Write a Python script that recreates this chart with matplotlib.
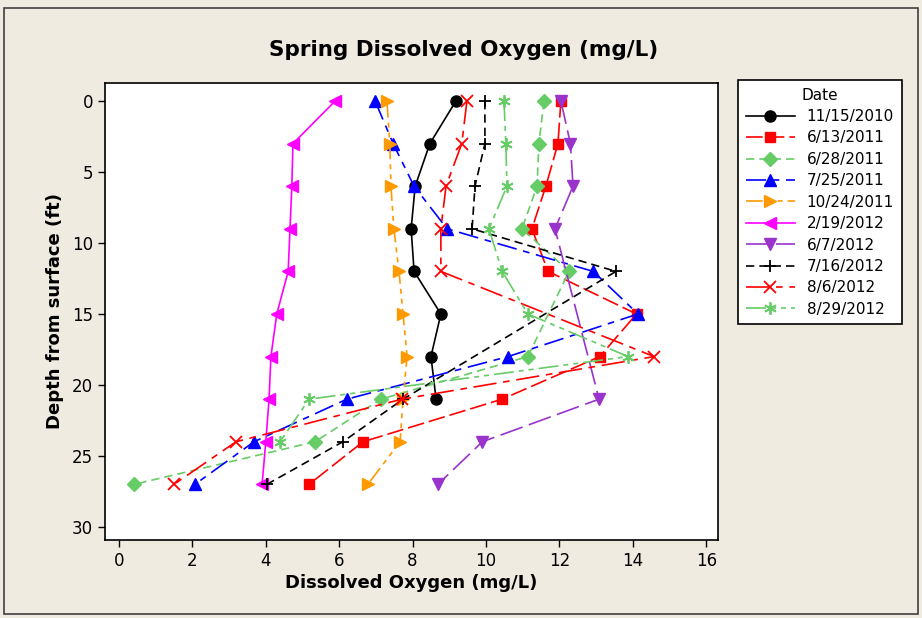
import numpy as np
import matplotlib
matplotlib.use("Agg")
from matplotlib import pyplot as plt
from matplotlib.patches import Rectangle

plt.rcParams['font.family'] = ['DejaVu Sans']

nan = np.nan
depth = [0, 3, 6, 9, 12, 15, 18, 21, 24, 27]

# ============================== Data (dissolved oxygen by depth) ==============================
do_20101115 = [9.18, 8.47, 8.07, 7.96, 8.04, 8.77, 8.50, 8.64, nan, nan]
do_20110613 = [12.04, 11.96, 11.63, 11.25, 11.69, 14.10, 13.10, 10.44, 6.65, 5.18]
do_20110628 = [11.58, 11.44, 11.39, 10.98, 12.26, nan, 11.14, 7.14, 5.34, 0.41]
do_20110725 = [6.98, 7.47, 8.04, 8.94, 12.92, 14.14, 10.60, 6.21, 3.68, 2.07]
do_20111024 = [7.30, 7.38, 7.41, 7.49, 7.63, 7.74, 7.85, 7.74, 7.66, 6.78]
do_20120219 = [5.89, 4.74, 4.71, 4.66, 4.61, 4.30, 4.14, 4.09, 4.00, 3.90]
do_20120607 = [12.04, 12.30, 12.37, 11.88, nan, nan, nan, 13.08, 9.90, 8.69]
do_20120716 = [9.97, 9.97, 9.70, 9.62, 13.54, nan, nan, 7.74, 6.10, 4.03]
do_20120806 = [9.48, 9.34, 8.91, 8.77, 8.77, nan, 14.58, 7.71, 3.19, 1.50]
do_20120829 = [10.49, 10.54, 10.57, 10.08, 10.44, 11.14, 13.87, 5.18, 4.39, nan]

dates = ["11/15/2010", "6/13/2011", "6/28/2011", "7/25/2011", "10/24/2011",
         "2/19/2012", "6/7/2012", "7/16/2012", "8/6/2012", "8/29/2012"]
values = [do_20101115, do_20110613, do_20110628, do_20110725, do_20111024,
          do_20120219, do_20120607, do_20120716, do_20120806, do_20120829]

# ============================== Styles (Minitab-like) ==============================
styles = [
    dict(color="black", marker="o", ls="-", ms=8),
    dict(color="#FF0000", marker="s", ls=(0, (10, 3)), ms=7.5),
    dict(color="#66CC66", marker="D", ls=(0, (5, 3)), ms=7),
    dict(color="#0000FF", marker="^", ls=(0, (12, 4, 4, 4)), ms=9),
    dict(color="#FF9900", marker=">", ls=(0, (10, 3, 3, 3, 3, 3)), ms=9),
    dict(color="#FF00FF", marker="<", ls="-", ms=9),
    dict(color="#9933CC", marker="v", ls=(0, (14, 4)), ms=9),
    dict(color="black", marker="+", ls=(0, (5, 3)), ms=9),
    dict(color="#FF0000", marker="x", ls=(0, (14, 4, 4, 4)), ms=8),
    dict(color="#66CC66", marker=(6, 2, 0), ls=(0, (12, 3, 3, 3, 3, 3)), ms=9),
]

fig = plt.figure(figsize=(9.22, 6.18), dpi=100)
fig.patch.set_facecolor("#EFEBE1")
fig.patches.append(Rectangle((4 / 922, 4 / 618), 914 / 922, 606 / 618,
                             transform=fig.transFigure, fill=False,
                             edgecolor="#404040", lw=1.2))

ax = fig.add_axes([105 / 922, 1 - 540 / 618, 613 / 922, 457 / 618])
ax.set_facecolor("white")

for label, vals, st in zip(dates, values, styles):
    d = np.array(depth, dtype=float)
    v = np.array(vals, dtype=float)
    ok = ~np.isnan(v)
    ax.plot(v[ok], d[ok], color=st["color"], marker=st["marker"],
            linestyle=st["ls"], markersize=st["ms"], lw=1.2,
            markeredgewidth=1.3 if st["marker"] in ("+", "x", (6, 2, 0)) else 1,
            label=label)

ax.set_xlim(-0.38, 16.32)
ax.set_ylim(30.92, -1.27)
ax.set_xticks(range(0, 17, 2))
ax.set_yticks(range(0, 31, 5))
ax.tick_params(direction="out", length=5, labelsize=12, width=1)
for s in ax.spines.values():
    s.set_linewidth(1.2)

ax.set_xlabel("Dissolved Oxygen (mg/L)", fontsize=13, fontweight="bold", labelpad=3)
ax.set_ylabel("Depth from surface (ft)", fontsize=13, fontweight="bold", labelpad=6)
fig.text(0.503, 1 - 50 / 618, "Spring Dissolved Oxygen (mg/L)", ha="center", va="center",
         fontsize=15.5, fontweight="bold")

leg = fig.legend(loc="upper left", bbox_to_anchor=(738 / 922, 1 - 80 / 618),
                 borderaxespad=0, title="Date", fontsize=11, title_fontsize=11,
                 frameon=True, fancybox=False, edgecolor="black", framealpha=1,
                 handlelength=3.2, labelspacing=0.42, borderpad=0.5)
leg.get_frame().set_linewidth(1.2)

fig.savefig("out.png", dpi=100, facecolor=fig.get_facecolor())
